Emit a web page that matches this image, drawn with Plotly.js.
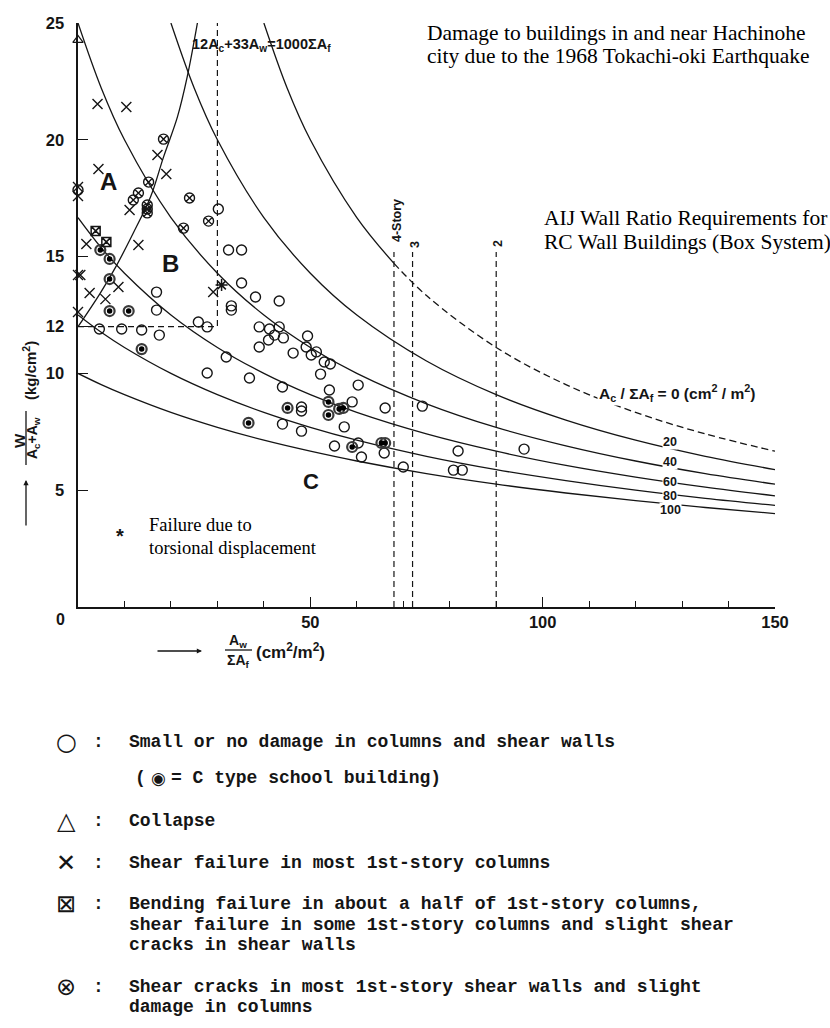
<!DOCTYPE html>
<html>
<head>
<meta charset="utf-8">
<script src="https://cdn.plot.ly/plotly-3.0.1.min.js"></script>
<style>
  html, body { margin: 0; padding: 0; background: #fff; }
  #chart { width: 830px; height: 1028px; }
</style>
</head>
<body>
<div id="chart"></div>
<script>
// ---- Building damage observations: Aw/ΣAf (x) vs W/(Ac+Aw) (y) ----
// Small or no damage
const openX = [0, 30.2, 32.4, 35.2, 35.2, 38.2, 43.3, 33.0, 33.0, 16.9, 16.9, 4.6, 9.4, 13.7, 17.5, 25.9, 27.8, 39.0, 41.2, 43.3,
               42.3, 44.2, 41.0, 39.0, 49.4, 49.1, 46.3, 50.2, 51.3, 53.0, 54.3, 52.2, 31.9, 27.8, 36.9, 44.0, 54.1, 60.3, 59.0, 66.1,
               74.1, 48.1, 48.1, 57.3, 44.0, 48.1, 55.2, 60.3, 61.0, 65.9, 70.0, 81.8, 96.0, 80.8, 82.7];
const openY = [17.85, 17.04, 15.28, 15.28, 13.87, 13.27, 13.10, 12.89, 12.71, 13.48, 12.71, 11.90, 11.90, 11.86, 11.64, 12.20, 11.99, 11.99, 11.90, 11.99,
               11.64, 11.52, 11.43, 11.13, 11.60, 11.13, 10.87, 10.79, 10.92, 10.49, 10.40, 9.97, 10.70, 10.02, 9.80, 9.42, 9.29, 9.50, 8.78, 8.52,
               8.60, 8.56, 8.39, 7.71, 7.83, 7.53, 6.89, 7.02, 6.42, 6.59, 5.99, 6.68, 6.76, 5.86, 5.86];
// C type school buildings
const schoolX = [4.8, 6.8, 6.8, 6.8, 10.9, 13.7, 53.9, 56.2, 57.1, 53.9, 45.1, 36.7, 59.0, 65.3, 66.1];
const schoolY = [15.28, 14.90, 14.04, 12.67, 12.67, 11.04, 8.78, 8.48, 8.52, 8.22, 8.52, 7.88, 6.85, 7.02, 7.02];
// Collapse
const collapseX = [0];
const collapseY = [24.27];
// Shear failure in most 1st-story columns
const shearX = [4.2, 10.4, 4.4, 0, 0, 0, 0.5, 0, 1.8, 2.5, 5.9, 8.7, 13.0, 11.1, 17.1, 19.0, 29.1];
const shearY = [21.53, 21.40, 18.75, 17.98, 17.59, 14.21, 14.21, 12.63, 15.54, 13.44, 13.18, 13.70, 15.50, 16.99, 19.35, 18.54, 13.48];
// Bending failure in about half of 1st-story columns
const bendX = [3.8, 6.1];
const bendY = [16.10, 15.63];
// Shear cracks in most 1st-story shear walls
const crackX = [18.4, 15.2, 13.0, 11.9, 14.9, 14.9, 14.9, 24.0, 28.1, 22.7];
const crackY = [20.03, 18.19, 17.72, 17.42, 17.21, 17.04, 16.87, 17.51, 16.52, 16.22];
// Failure due to torsional displacement
const torsionX = [30.9];
const torsionY = [13.78];

// ---- Reference curves (Ac/ΣAf = const) ----
const curveX = [0, 5, 10, 20, 30, 40, 50, 60, 75, 90, 105, 120, 135, 150];
const curve100 = [10.0, 9.52, 9.09, 8.33, 7.69, 7.14, 6.67, 6.25, 5.71, 5.26, 4.88, 4.55, 4.26, 4.0];
const curve80  = [12.5, 11.76, 11.11, 10.0, 9.09, 8.33, 7.69, 7.14, 6.45, 5.88, 5.41, 5.0, 4.65, 4.35];
const curve60  = [16.67, 15.38, 14.29, 12.5, 11.11, 10.0, 9.09, 8.33, 7.41, 6.67, 6.06, 5.56, 5.13, 4.76];
const curve40  = [25.0, 22.22, 20.0, 16.67, 14.29, 12.5, 11.11, 10.0, 8.70, 7.69, 6.90, 6.25, 5.71, 5.26];
const curve20X = [20, 25, 30, 40, 50, 60, 75, 90, 105, 120, 135, 150];
const curve20  = [25.0, 22.22, 20.0, 16.67, 14.29, 12.5, 10.53, 9.09, 8.0, 7.14, 6.45, 5.88];
const curve0SolidX = [40, 45, 50, 60, 68];
const curve0Solid  = [25.0, 22.22, 20.0, 16.67, 14.71];
const curve0DashX  = [68, 75, 90, 105, 120, 135, 150];
const curve0Dash   = [14.71, 13.33, 11.11, 9.52, 8.33, 7.41, 6.67];
// 12Ac + 33Aw = 1000ΣAf
const limitX = [0, 4.8, 8.1, 11.9, 15.6, 18.4, 21.4, 23.5, 25.7];
const limitY = [12.0, 13.44, 14.55, 16.01, 17.55, 19.26, 20.98, 22.69, 25.0];
// Region B boundary
const boxX = [0, 30, 30];
const boxY = [12, 12, 25];
// AIJ story requirements
const storyX = [68, 72, 90];
const storyTop = 15.2;
const storyLabels = ['4-Story', '3', '2'];
const curveLabels = ['20', '40', '60', '80', '100'];
const curveLabelY = [7.08, 6.2, 5.33, 4.75, 4.15];

const ink = '#151515';
const L = 78, T = 23, PW = 697, PH = 584;

function spline(x, y, dash) {
  return { x: x, y: y, type: 'scatter', mode: 'lines', hoverinfo: 'skip', cliponaxis: false,
           line: { color: ink, width: 1.3, shape: 'spline', smoothing: 1, dash: dash || 'solid' } };
}
function pts(x, y, symbol, size, lw, color) {
  return { x: x, y: y, type: 'scatter', mode: 'markers', hoverinfo: 'skip', cliponaxis: false,
           marker: { symbol: symbol, size: size, color: color || ink, line: { color: color || ink, width: lw } } };
}

// vertical story lines as one broken trace
const storyLineX = [], storyLineY = [];
storyX.forEach(v => { storyLineX.push(v, v, null); storyLineY.push(0, storyTop, null); });

const traces = [
  spline(curveX, curve100), spline(curveX, curve80), spline(curveX, curve60), spline(curveX, curve40),
  spline(curve20X, curve20), spline(curve0SolidX, curve0Solid), spline(curve0DashX, curve0Dash, '7px,4px'),
  spline(limitX, limitY),
  { x: boxX, y: boxY, type: 'scatter', mode: 'lines', hoverinfo: 'skip', line: { color: ink, width: 1.2, dash: '6px,4px' } },
  { x: storyLineX, y: storyLineY, type: 'scatter', mode: 'lines', hoverinfo: 'skip', line: { color: ink, width: 1.2, dash: '6px,4px' } },
  pts(openX, openY, 'circle-open', 10, 1.4),
  pts(schoolX, schoolY, 'circle-open', 10, 2.2, '#3a3a3a'),
  pts(schoolX, schoolY, 'circle', 5.5, 0, '#000'),
  pts(collapseX, collapseY, 'triangle-up-open', 9, 1.2),
  pts(shearX, shearY, 'x-thin-open', 10, 1.4),
  pts(bendX, bendY, 'square-x-open', 9, 1.5),
  pts(crackX, crackY, 'circle-x-open', 10, 1.4),
  pts(torsionX, torsionY, 'asterisk-open', 10, 1.5)
];

function P(px, py) { return { x: (px - L) / PW, y: 1 - (py - T) / PH }; }
function txt(px, py, text, font, extra) {
  const p = P(px, py);
  return Object.assign({ xref: 'paper', yref: 'paper', x: p.x, y: p.y, text: text, showarrow: false,
                         xanchor: 'center', yanchor: 'middle', font: font }, extra || {});
}
const sansB = (s) => ({ family: 'Liberation Sans, Arial, sans-serif', size: s, color: ink, weight: 'bold' });
const serif = (s) => ({ family: 'Liberation Serif, Times New Roman, serif', size: s, color: '#000' });
const mono = (s) => ({ family: 'Liberation Mono, Courier New, monospace', size: s, color: ink, weight: 'bold' });
const sym = (s) => ({ family: 'DejaVu Sans, sans-serif', size: s, color: ink });

const annotations = [
  // headings
  txt(425, 33, 'Damage to buildings in and near Hachinohe', serif(21.5), { xanchor: 'left' }),
  txt(425, 56, 'city due to the 1968 Tokachi-oki Earthquake', serif(21.5), { xanchor: 'left' }),
  txt(542, 218, 'AIJ Wall Ratio Requirements for', serif(21.5), { xanchor: 'left' }),
  txt(542, 242, 'RC Wall Buildings (Box System)', serif(21.5), { xanchor: 'left' }),
  // region letters
  txt(108, 181, 'A', sansB(24)), txt(170, 263, 'B', sansB(24)), txt(311, 481, 'C', sansB(22)),
  // limit curve label
  txt(190, 45, '12A<sub>c</sub>+33A<sub>w</sub>=1000ΣA<sub>f</sub>', sansB(14.5), { xanchor: 'left' }),
  // curve labels
  txt(597, 393, 'A<sub>c</sub> / ΣA<sub>f</sub> = 0 (cm<sup>2</sup> / m<sup>2</sup>)', sansB(15.5), { xanchor: 'left', bgcolor: '#fff' }),
  // torsion note
  txt(120, 536, '*', sansB(20)),
  txt(147, 525, 'Failure due to', serif(18.5), { xanchor: 'left' }),
  txt(147, 548, 'torsional displacement', serif(18.5), { xanchor: 'left' }),
  // origin label
  txt(60, 619, '0', sansB(16)),
  // y-axis title (fraction, rotated)
  txt(19, 440, 'W', sansB(15), { textangle: -90 }),
  txt(33, 438, 'A<sub>c</sub>+A<sub>w</sub>', sansB(14), { textangle: -90 }),
  txt(29, 371, '(kg/cm<sup>2</sup>)', sansB(15), { textangle: -90 }),
  // x-axis title (fraction)
  txt(238, 641, 'A<sub>w</sub>', sansB(14)),
  txt(238, 661, 'ΣA<sub>f</sub>', sansB(14)),
  txt(254, 651, '(cm<sup>2</sup>/m<sup>2</sup>)', sansB(17), { xanchor: 'left' }),
  // axis arrows
  Object.assign({ xref: 'paper', yref: 'paper', text: '', showarrow: true, ax: 0, ay: 47, axref: 'pixel', ayref: 'pixel',
                  arrowhead: 2, arrowsize: 0.8, arrowwidth: 1.3, arrowcolor: ink, standoff: 0 }, P(26, 480)),
  Object.assign({ xref: 'paper', yref: 'paper', text: '', showarrow: true, ax: -46, ay: 0, axref: 'pixel', ayref: 'pixel',
                  arrowhead: 2, arrowsize: 0.8, arrowwidth: 1.3, arrowcolor: ink, standoff: 0 }, P(202, 651))
];

// story labels above the dashed lines
const storyLabelPx = [[397, 221], [415, 245], [498, 244]];
storyLabels.forEach((s, i) => {
  annotations.push(txt(storyLabelPx[i][0], storyLabelPx[i][1], s, sansB(12.5), { textangle: -90 }));
});
// Ac/ΣAf value labels at right end of curves
curveLabels.forEach((s, i) => {
  annotations.push({ xref: 'x', yref: 'y', x: 127.5, y: curveLabelY[i], text: s, showarrow: false,
                     xanchor: 'center', yanchor: 'middle', font: sansB(12.5), bgcolor: '#fff', borderpad: 0 });
});

// legend block
const legendRows = [
  { y: 742, s: '○', t: 'Small or no damage in columns and shear walls' },
  { y: 821, s: '△', t: 'Collapse' },
  { y: 863, s: '✕', t: 'Shear failure in most 1st-story columns' },
  { y: 904, s: '⊠', t: 'Bending failure in about a half of 1st-story columns,' },
  { y: 987, s: '⊗', t: 'Shear cracks in most 1st-story shear walls and slight' }
];
legendRows.forEach(r => {
  annotations.push(txt(66, r.y, r.s, sym(24)));
  annotations.push(txt(98, r.y, ':', mono(18)));
  annotations.push(txt(127, r.y, r.t, mono(18), { xanchor: 'left' }));
});
// school building note: bracket, symbol, description
annotations.push(txt(147, 778, '(', mono(18), { xanchor: 'right', borderpad: 0 }));
annotations.push(txt(158, 778, '◉', sym(17), { borderpad: 0 }));
annotations.push(txt(170, 778, '= C type school building)', mono(18), { xanchor: 'left', borderpad: 0 }));
const legendCont = [
  { x: 127, y: 925, t: 'shear failure in some 1st-story columns and slight shear' },
  { x: 127, y: 945, t: 'cracks in shear walls' },
  { x: 127, y: 1007, t: 'damage in columns' }
];
legendCont.forEach(r => annotations.push(txt(r.x, r.y, r.t, mono(18), { xanchor: 'left' })));

// fraction bars
const shapes = [
  { type: 'line', xref: 'paper', yref: 'paper', x0: P(26, 411).x, y0: P(26, 411).y, x1: P(26, 465).x, y1: P(26, 465).y, line: { color: ink, width: 1.3 } },
  { type: 'line', xref: 'paper', yref: 'paper', x0: P(225, 650).x, y0: P(225, 650).y, x1: P(252, 650).x, y1: P(252, 650).y, line: { color: ink, width: 1.3 } }
];

const tickFont = { family: 'Liberation Sans, Arial, sans-serif', size: 16.5, color: ink, weight: 'bold' };
const layout = {
  width: 830, height: 1028,
  margin: { l: L, r: 55, t: T, b: 421 },
  paper_bgcolor: '#fff', plot_bgcolor: '#fff',
  showlegend: false,
  xaxis: {
    range: [0, 150], showgrid: false, zeroline: false,
    showline: true, linecolor: ink, linewidth: 1.6,
    ticks: 'inside', ticklen: 10, tickwidth: 1.3, tickcolor: ink,
    tickvals: [50, 100, 150], ticktext: ['50', '100', '150'], tickfont: tickFont,
    minor: { tickvals: [10, 20, 30, 40, 60, 70, 80, 90, 110, 120, 130, 140], ticks: 'inside', ticklen: 6, tickwidth: 1.1, tickcolor: ink, showgrid: false }
  },
  yaxis: {
    range: [0, 25], showgrid: false, zeroline: false,
    showline: true, linecolor: ink, linewidth: 1.6,
    ticks: 'inside', ticklen: 10, tickwidth: 1.3, tickcolor: ink,
    tickvals: [5, 10, 12, 15, 20, 25], ticktext: ['5', '10', '12', '15', '20', '25'], tickfont: tickFont,
    ticklabelstandoff: 9
  },
  annotations: annotations,
  shapes: shapes
};

Plotly.newPlot('chart', traces, layout, { staticPlot: true, displayModeBar: false });
</script>
</body>
</html>
